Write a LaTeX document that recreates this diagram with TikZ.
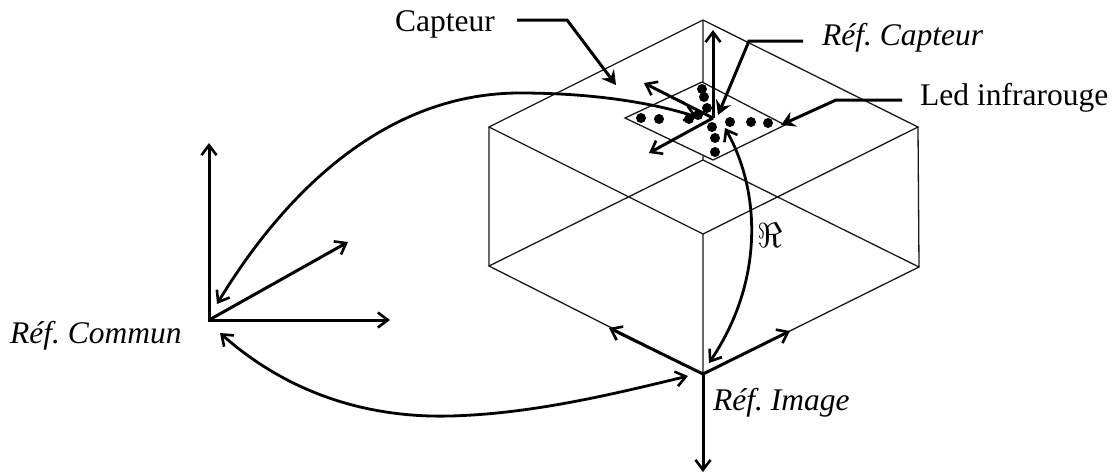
\documentclass[tikz,border=0pt]{standalone}
\usepackage{fontspec}
\setmainfont{Liberation Serif}
\usetikzlibrary{arrows.meta}
\frenchspacing
\tikzset{
  thin line/.style={line width=1.3pt,black!90},
  conn/.style={line width=3pt,-{Straight Barb[length=10pt,width=15pt,line width=2.6pt]}},
  note/.style={line width=3pt,-{Stealth[length=14pt,width=16pt,inset=5pt]},line join=miter},
  biconn/.style={line width=2.8pt,{Straight Barb[length=10pt,width=15pt,line width=2.6pt]}-{Straight Barb[length=10pt,width=15pt,line width=2.6pt]}},
  label/.style={inner sep=0pt,anchor=base west,font=\fontsize{31.5}{36}\selectfont},
  ilabel/.style={label,font=\fontsize{31.5}{36}\selectfont\itshape},
  dot/.style={circle,fill=black,inner sep=0pt,minimum width=10pt,minimum height=9pt}
}
\begin{document}
\begin{tikzpicture}[x=1pt,y=-1pt]
\useasboundingbox (0,0) rectangle (1120,475);
\coordinate (tb) at (703,20);
\coordinate (tl) at (489,127);
\coordinate (tr) at (918,127);
\coordinate (tf) at (703,234);
\coordinate (bb) at (703,160);
\coordinate (bl) at (489,266);
\coordinate (br) at (919,267);
\coordinate (bf) at (703,374);
\draw[thin line] (tl)--(tb)--(tr)--(tf)--cycle;
\draw[thin line] (bl)--(bb)--(br)--(bf)--cycle;
\draw[thin line] (tb)--(bb) (tl)--(bl) (tr)--(br) (tf)--(bf);
\coordinate (sl) at (625,118);
\coordinate (sb) at (702,82);
\coordinate (sr) at (785,125);
\coordinate (sf) at (713,160);
\draw[thin line,fill=white] (sl)--(sb)--(sr)--(sf)--cycle;
\foreach \n/\x/\y in {a/641/118,b/659/119,c/689/119,d/698/115,e/702/89,f/704/97,g/707/108,h/712/127,i/730/122,j/751/122,k/768/123,l/715/138,m/715/152}
  \node[dot] (\n) at (\x,\y) {};
\coordinate (so) at (713,118);
\coordinate (su) at (713,30);
\coordinate (sul) at (644,83);
\coordinate (sdl) at (649,153);
\draw[conn] (so)--(su);
\draw[conn] (so)--(sul);
\draw[conn] (so)--(sdl);
\coordinate (co) at (209,320);
\coordinate (cu) at (209,143);
\coordinate (cr) at (390,320);
\coordinate (cd) at (348,242);
\draw[conn,line cap=rect] (co)--(cu);
\draw[conn] (co)--(cr);
\draw[conn] (co)--(cd);
\coordinate (iu) at (609,328);
\coordinate (ir) at (790,331);
\coordinate (id) at (703,472);
\draw[conn] (bf)--(iu);
\draw[conn] (bf)--(ir);
\draw[conn] (bf)--(id);
\node[label] (capt) at (395,31) {Capteur};
\node[ilabel] (rc) at (822,45) {Réf. Capteur};
\node[label] (led) at (920,105) {Led infrarouge};
\node[ilabel] (rcom) at (10,343) {Réf. Commun};
\node[ilabel] (rim) at (713,410) {Réf. Image};
\node[inner sep=0pt,font=\fontsize{24.88}{30}\selectfont,scale=1.4] (re) at (770,235) {$\Re$};
\coordinate (c0) at (517,20);
\coordinate (c1) at (567,20);
\coordinate (c2) at (616,85);
\draw[note] (c0) -- (c1) -- (c2);
\coordinate (r0) at (803,41);
\coordinate (r1) at (749,41);
\coordinate (r2) at (718,115);
\draw[note] (r0) -- (r1) -- (r2);
\coordinate (l0) at (902,100);
\coordinate (l1) at (836,100);
\coordinate (l2) at (781,125);
\draw[note] (l0) -- (l1) -- (l2);
\coordinate (a1) at (217,304);
\coordinate (a2) at (697,117);
\draw[biconn] (a1) .. controls (280,200) and (380,93) .. (520,93) .. controls (590,93) and (650,102) .. (a2);
\coordinate (b1) at (725,128);
\coordinate (b2) at (709,363);
\draw[biconn] (b1) .. controls (760,190) and (765,280) .. (b2);
\coordinate (d1) at (220,333);
\coordinate (d2) at (688,376);
\draw[biconn] (d1) .. controls (290,395) and (370,418) .. (450,416) .. controls (530,414) and (610,395) .. (d2);
\end{tikzpicture}
\end{document}
